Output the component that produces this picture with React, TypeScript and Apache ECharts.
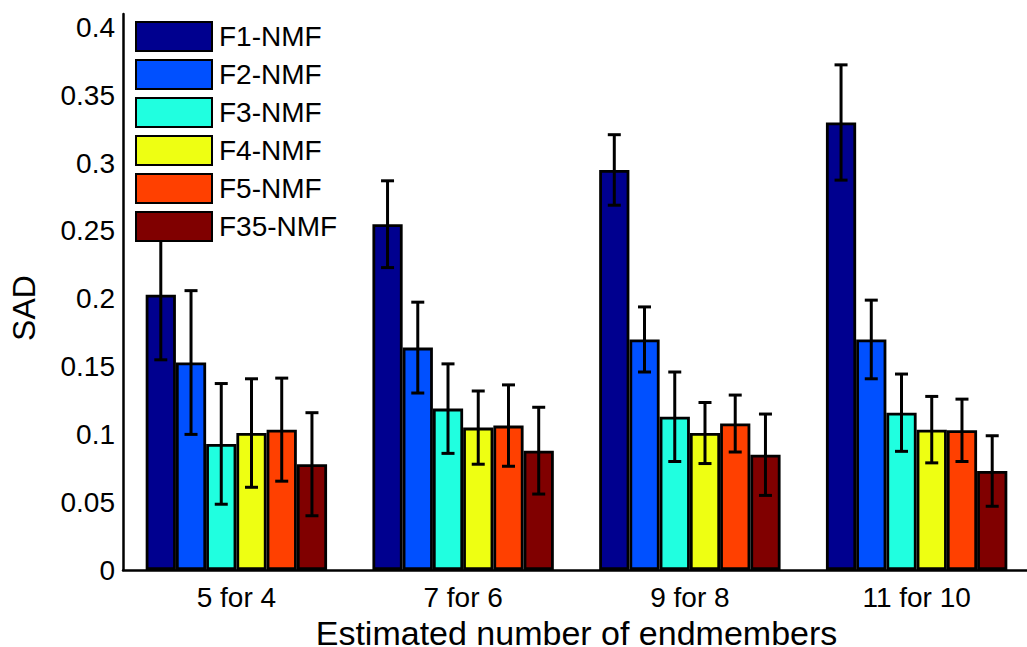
import React, { useEffect, useRef } from "react";
import * as echarts from "echarts";

const categories = ["5 for 4", "7 for 6", "9 for 8", "11 for 10"];
const seriesNames = ["F1-NMF", "F2-NMF", "F3-NMF", "F4-NMF", "F5-NMF", "F35-NMF"];
const seriesColors = ["#00008F", "#0050FF", "#20FFE0", "#EEFF12", "#FF4000", "#800000"];

const f1 = [0.203, 0.255, 0.295, 0.330];
const f2 = [0.153, 0.164, 0.170, 0.170];
const f3 = [0.093, 0.119, 0.113, 0.116];
const f4 = [0.101, 0.105, 0.101, 0.1035];
const f5 = [0.1035, 0.1065, 0.108, 0.103];
const f35 = [0.078, 0.088, 0.085, 0.073];

const e1 = [0.048, 0.032, 0.026, 0.0425];
const e2 = [0.053, 0.0335, 0.024, 0.029];
const e3 = [0.0445, 0.033, 0.033, 0.0285];
const e4 = [0.040, 0.027, 0.0225, 0.0245];
const e5 = [0.038, 0.030, 0.021, 0.023];
const e35 = [0.038, 0.032, 0.030, 0.026];

const yTicks = [0, 0.05, 0.1, 0.15, 0.2, 0.25, 0.3, 0.35, 0.4];

const values = [f1, f2, f3, f4, f5, f35];
const errors = [e1, e2, e3, e4, e5, e35];

const FONT = "'Liberation Sans', Arial, Helvetica, sans-serif";

export default function App() {
  const ref = useRef<HTMLDivElement>(null);
  useEffect(() => {
    if (!ref.current) return;
    const chart = echarts.init(ref.current, null, { renderer: "svg" });
    const n = seriesNames.length;
    const errData: number[][] = [];
    values.forEach((vals, s) => {
      vals.forEach((v, c) => {
        errData.push([c, v - errors[s][c], v + errors[s][c], s]);
      });
    });
    const barSeries = seriesNames.map((name, s) => ({
      name,
      type: "bar",
      data: values[s],
      barGap: "0%",
      barCategoryGap: "20%",
      itemStyle: { color: seriesColors[s], borderColor: "#000", borderWidth: 2.8 },
      z: 2,
    }));
    chart.setOption({
      animation: false,
      backgroundColor: "#fff",
      textStyle: { fontFamily: FONT },
      grid: { left: 123, right: -3, top: 14, bottom: 77, containLabel: false, outerBoundsMode: "none" },
      legend: {
        data: seriesNames,
        orient: "vertical",
        left: 135,
        top: 21,
        padding: 0,
        itemWidth: 76,
        itemHeight: 29,
        itemGap: 7,
        icon: "rect",
        backgroundColor: "#fff",
        textStyle: { fontSize: 28, color: "#000", fontFamily: FONT, lineHeight: 29, padding: [0, 0, 0, 2] },
        z: 10,
      },
      xAxis: {
        type: "category",
        data: categories,
        axisTick: { show: false },
        axisLine: { lineStyle: { color: "#000", width: 2.5 } },
        axisLabel: { fontSize: 28, color: "#000", margin: 13, fontFamily: FONT },
        name: "Estimated number of endmembers",
        nameLocation: "middle",
        nameGap: 37,
        nameTextStyle: { fontSize: 34, color: "#000", fontFamily: FONT, lineHeight: 29 },
      },
      yAxis: {
        type: "value",
        min: 0,
        max: 0.41,
        interval: 0.05,
        splitLine: { show: false },
        axisTick: { show: false },
        axisLine: { show: true, lineStyle: { color: "#000", width: 2.5 } },
        axisLabel: {
          fontSize: 28,
          color: "#000",
          margin: 8,
          fontFamily: FONT,
          showMaxLabel: false,
          formatter: (v: number) => {
            const t = yTicks.find((k) => Math.abs(k - v) < 1e-6);
            return t === undefined ? "" : String(t);
          },
        },
        name: "SAD",
        nameLocation: "middle",
        nameGap: 83,
        nameTextStyle: { fontSize: 32, color: "#000", fontFamily: FONT, padding: [0, 32, 0, 0] },
      },
      series: [
        ...barSeries,
        {
          type: "custom",
          name: "err",
          data: errData,
          encode: { x: 0, y: [1, 2] },
          z: 3,
          renderItem: (params: any, api: any) => {
            const c = api.value(0);
            const low = api.value(1);
            const high = api.value(2);
            const s = api.value(3);
            const band = api.size([1, 0])[0];
            const barW = (band * 0.8) / n;
            const cx = api.coord([c, 0])[0] - 0.4 * band + (s + 0.5) * barW;
            const yl = api.coord([c, low])[1];
            const yh = api.coord([c, high])[1];
            const hw = 6.5;
            const style = { stroke: "#000", lineWidth: 3 };
            return {
              type: "group",
              children: [
                { type: "line", shape: { x1: cx, y1: yl, x2: cx, y2: yh }, style },
                { type: "line", shape: { x1: cx - hw, y1: yh, x2: cx + hw, y2: yh }, style },
                { type: "line", shape: { x1: cx - hw, y1: yl, x2: cx + hw, y2: yl }, style },
              ],
            };
          },
        },
      ],
    });
    return () => chart.dispose();
  }, []);
  return (
    <div
      ref={ref}
      style={{ position: "absolute", left: 0, top: 0, width: 1027, height: 647 }}
    />
  );
}
